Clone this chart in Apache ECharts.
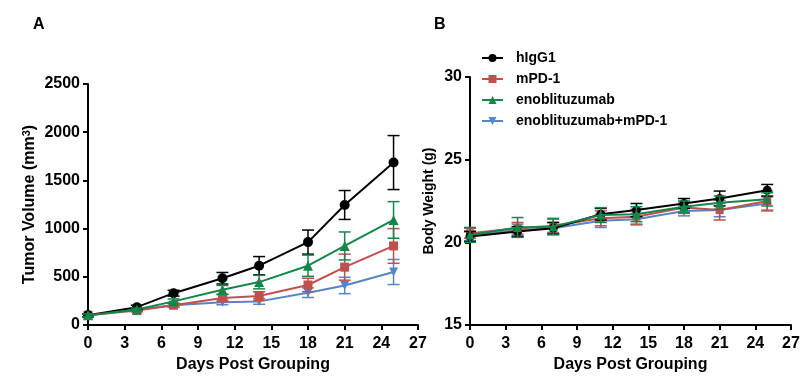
<!DOCTYPE html>
<html>
<head>
<meta charset="utf-8">
<script src="https://cdn.jsdelivr.net/npm/echarts@6/dist/echarts.min.js"></script>
<style>
html,body{margin:0;padding:0;background:#fff;}
#chart{width:812px;height:383px;}
</style>
</head>
<body>
<div id="chart"></div>
<script>
// ---- data ----
const days = [0, 4, 7, 11, 14, 18, 21, 25];
const xTicks = [0, 3, 6, 9, 12, 15, 18, 21, 24, 27];
const volTicks = [0, 500, 1000, 1500, 2000, 2500];
const bwTicks = [15, 20, 25, 30];
const groupNames = ['hIgG1', 'mPD-1', 'enoblituzumab', 'enoblituzumab+mPD-1'];

const volHIgG1 = [100, 185, 330, 485, 615, 860, 1245, 1685];
const volHIgG1Err = [15, 20, 30, 60, 95, 125, 150, 280];
const volMPD1 = [100, 150, 205, 280, 300, 415, 600, 820];
const volMPD1Err = [15, 15, 20, 35, 45, 70, 135, 180];
const volEno = [100, 160, 245, 365, 445, 615, 820, 1090];
const volEnoErr = [15, 15, 25, 45, 70, 110, 145, 190];
const volCombo = [100, 160, 205, 235, 245, 335, 410, 550];
const volComboErr = [15, 15, 20, 25, 30, 50, 85, 130];

const bwHIgG1 = [20.35, 20.65, 20.85, 21.7, 21.95, 22.35, 22.65, 23.15];
const bwHIgG1Err = [0.3, 0.3, 0.35, 0.35, 0.4, 0.3, 0.45, 0.35];
const bwMPD1 = [20.55, 20.85, 21.0, 21.45, 21.55, 22.1, 21.95, 22.5];
const bwMPD1Err = [0.3, 0.35, 0.4, 0.45, 0.45, 0.35, 0.6, 0.6];
const bwEno = [20.45, 20.9, 20.95, 21.65, 21.7, 22.15, 22.4, 22.6];
const bwEnoErr = [0.45, 0.6, 0.5, 0.45, 0.45, 0.35, 0.4, 0.4];
const bwCombo = [20.4, 20.75, 20.85, 21.3, 21.4, 21.9, 21.95, 22.35];
const bwComboErr = [0.3, 0.35, 0.35, 0.4, 0.35, 0.3, 0.4, 0.4];

// ---- styling ----
const FONT = 'Liberation Sans, Arial, sans-serif';
const colors = ['#000000', '#C0504D', '#13874A', '#5585C5'];
const symbols = ['circle', 'rect', 'triangle', 'triangle'];
const rotates = [0, 0, 0, 180];
const sizes = [10, 9, 10, 9];

const volSets = [[volHIgG1, volHIgG1Err], [volMPD1, volMPD1Err], [volEno, volEnoErr], [volCombo, volComboErr]];
const bwSets = [[bwHIgG1, bwHIgG1Err], [bwMPD1, bwMPD1Err], [bwEno, bwEnoErr], [bwCombo, bwComboErr]];

function errRender(color) {
  return function (params, api) {
    const x = api.value(0), y = api.value(1), e = api.value(2);
    const top = api.coord([x, y + e]);
    const bot = api.coord([x, y - e]);
    const hw = 6;
    const st = { stroke: color, lineWidth: 1.5 };
    return {
      type: 'group',
      children: [
        { type: 'line', shape: { x1: top[0], y1: top[1], x2: bot[0], y2: bot[1] }, style: st },
        { type: 'line', shape: { x1: top[0] - hw, y1: top[1], x2: top[0] + hw, y2: top[1] }, style: st },
        { type: 'line', shape: { x1: bot[0] - hw, y1: bot[1], x2: bot[0] + hw, y2: bot[1] }, style: st }
      ]
    };
  };
}

const drawOrder = [3, 1, 0, 2];
const series = [];
[[volSets, 0], [bwSets, 1]].forEach(([sets, gi]) => {
  drawOrder.forEach((i, k) => {
    const [vals, errs] = sets[i];
    series.push({
      type: 'custom',
      name: groupNames[i] + '_err' + gi,
      xAxisIndex: gi, yAxisIndex: gi,
      renderItem: errRender(colors[i]),
      data: days.map((d, j) => [d, vals[j], errs[j]]),
      z: 2 + k * 2,
      silent: true
    });
    series.push({
      type: 'line',
      name: groupNames[i],
      xAxisIndex: gi, yAxisIndex: gi,
      data: days.map((d, j) => [d, vals[j]]),
      symbol: symbols[i],
      symbolRotate: rotates[i],
      symbolSize: gi === 0 ? sizes[i] : sizes[i] - 1,
      showAllSymbol: true,
      lineStyle: { color: colors[i], width: 2 },
      itemStyle: { color: colors[i], opacity: 1 },
      z: 3 + k * 2,
      animation: false
    });
  });
});

function xAxis(gi) {
  return {
    type: 'value', gridIndex: gi, min: 0, max: 27, interval: 3,
    name: 'Days Post Grouping', nameLocation: 'middle', nameGap: 32,
    nameTextStyle: { fontFamily: FONT, fontWeight: 'bold', fontSize: 16, color: '#000' },
    axisLine: { lineStyle: { color: '#000', width: 2 } },
    axisTick: { show: true, length: 5, lineStyle: { color: '#000', width: 2 } },
    axisLabel: { fontFamily: FONT, fontWeight: 'bold', fontSize: 16, color: '#000', margin: 11,
      formatter: v => xTicks.includes(v) ? String(v) : '' },
    splitLine: { show: false }
  };
}

const option = {
  backgroundColor: '#fff',
  animation: false,
  title: [
    { text: 'A', left: 28, top: 12, textStyle: { fontFamily: FONT, fontWeight: 'bold', fontSize: 16, color: '#000' } },
    { text: 'B', left: 429, top: 12, textStyle: { fontFamily: FONT, fontWeight: 'bold', fontSize: 16, color: '#000' } }
  ],
  legend: {
    orient: 'vertical', left: 481, top: 51, padding: 0,
    itemWidth: 21, itemHeight: 10, itemGap: 7,
    data: groupNames,
    textStyle: { fontFamily: FONT, fontWeight: 'bold', fontSize: 14, color: '#000', padding: [0, 0, 0, 8] }
  },
  grid: [
    { left: 88, top: 84, width: 330, height: 241 },
    { left: 470, top: 77, width: 321, height: 248 }
  ],
  xAxis: [xAxis(0), xAxis(1)],
  yAxis: [
    {
      type: 'value', gridIndex: 0, min: 0, max: 2500, interval: 500,
      name: 'Tumor Volume (mm{sup|3})', nameLocation: 'middle', nameGap: 49,
      nameTextStyle: { fontFamily: FONT, fontWeight: 'bold', fontSize: 16, color: '#000',
        rich: { sup: { fontFamily: FONT, fontWeight: 'bold', fontSize: 11, color: '#000', padding: [0, 0, 7, 0] } } },
      axisLine: { show: true, lineStyle: { color: '#000', width: 2 } },
      axisTick: { show: true, length: 5, lineStyle: { color: '#000', width: 2 } },
      axisLabel: { fontFamily: FONT, fontWeight: 'bold', fontSize: 16, color: '#000', margin: 8,
        formatter: v => volTicks.includes(v) ? String(v) : '' },
      splitLine: { show: false }
    },
    {
      type: 'value', gridIndex: 1, min: 15, max: 30, interval: 5,
      name: 'Body Weight (g)', nameLocation: 'middle', nameGap: 34,
      nameTextStyle: { fontFamily: FONT, fontWeight: 'bold', fontSize: 14, color: '#000' },
      axisLine: { show: true, lineStyle: { color: '#000', width: 2 } },
      axisTick: { show: true, length: 5, lineStyle: { color: '#000', width: 2 } },
      axisLabel: { fontFamily: FONT, fontWeight: 'bold', fontSize: 16, color: '#000', margin: 8,
        formatter: v => bwTicks.includes(v) ? String(v) : '' },
      splitLine: { show: false }
    }
  ],
  series: series
};

const chart = echarts.init(document.getElementById('chart'), null, { renderer: 'canvas' });
chart.setOption(option);
</script>
</body>
</html>
